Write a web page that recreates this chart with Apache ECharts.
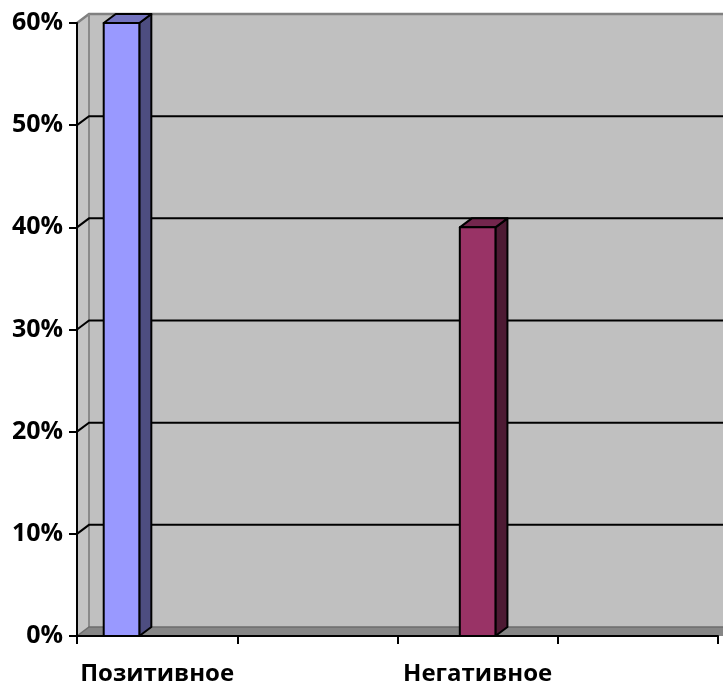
<!DOCTYPE html>
<html>
<head>
<meta charset="utf-8">
<script src="https://cdn.jsdelivr.net/npm/echarts@6/dist/echarts.min.js"></script>
<style>
  html, body { margin: 0; padding: 0; background: #ffffff; }
  #chart { width: 723px; height: 688px; }
</style>
</head>
<body>
<div id="chart"></div>
<script>
// Categories (only every other name is printed under the axis)
const categories = ['Позитивное', '', 'Негативное', ''];
// Share of answers, percent, per series and category
const positiveValues = [60, null, null, null];
const negativeValues = [null, null, 40, null];
// Value axis
const yTicks = [0, 10, 20, 30, 40, 50, 60];

// 3D look: depth offset of the back plane, in pixels
const DEPTH_X = 12;
const DEPTH_Y = 9;
// three series slots per category, gap width 150%
const SLOTS = 3;
const GAP = 1.5;

const FONT = '"Open Sans", "DejaVu Sans", sans-serif';

function toItems(values) {
  const out = [];
  values.forEach(function (v, i) { if (v !== null) out.push([i, v]); });
  return out;
}

// Back wall, side wall, floor and gridlines
function renderWalls(params, api) {
  const cs = params.coordSys;
  const left = cs.x, right = cs.x + cs.width;
  const top = api.coord([0, yTicks[yTicks.length - 1]])[1];
  const bottom = api.coord([0, yTicks[0]])[1];
  const children = [];
  // back wall
  children.push({
    type: 'rect',
    shape: { x: left + DEPTH_X, y: top - DEPTH_Y, width: right - left + 20, height: bottom - top },
    style: { fill: '#c0c0c0' }
  });
  // left side wall
  children.push({
    type: 'polygon',
    shape: { points: [[left, top], [left + DEPTH_X, top - DEPTH_Y], [left + DEPTH_X, bottom - DEPTH_Y], [left, bottom]] },
    style: { fill: '#c4c4c4' }
  });
  // wall edges
  children.push({
    type: 'polyline',
    shape: { points: [[left, top], [left + DEPTH_X, top - DEPTH_Y], [right + 20, top - DEPTH_Y]] },
    style: { stroke: '#808080', lineWidth: 2.5, fill: null }
  });
  children.push({
    type: 'line',
    shape: { x1: left + DEPTH_X, y1: top - DEPTH_Y, x2: left + DEPTH_X, y2: bottom - DEPTH_Y },
    style: { stroke: '#8a8a8a', lineWidth: 2 }
  });
  // gridlines
  yTicks.slice(1, -1).forEach(function (v) {
    const y = api.coord([0, v])[1];
    children.push({
      type: 'polyline',
      shape: { points: [[left, y], [left + DEPTH_X, y - DEPTH_Y], [right + 20, y - DEPTH_Y]] },
      style: { stroke: '#000000', lineWidth: 2, fill: null }
    });
  });
  // floor
  children.push({
    type: 'polygon',
    shape: { points: [[left, bottom], [left + DEPTH_X, bottom - DEPTH_Y], [right + 20, bottom - DEPTH_Y], [right + 20, bottom]] },
    style: { fill: '#868686' }
  });
  children.push({
    type: 'polyline',
    shape: { points: [[left, bottom], [left + DEPTH_X, bottom - DEPTH_Y], [right + 20, bottom - DEPTH_Y]] },
    style: { stroke: '#6c6c6c', lineWidth: 1.5, fill: null }
  });
  return { type: 'group', children: children };
}

// 3D column: front face, right side and top
function barRenderer(slot, colors) {
  return function (params, api) {
    const cat = api.value(0), val = api.value(1);
    const base = api.coord([cat, 0]);
    const topPt = api.coord([cat, val]);
    const band = api.size([1, 0])[0];
    const w = band / (SLOTS + GAP);
    const cx = base[0] + (slot - (SLOTS - 1) / 2) * w;
    const x0 = cx - w / 2, x1 = cx + w / 2;
    const yb = base[1], yt = topPt[1];
    const stroke = { stroke: '#000000', lineWidth: 2, lineJoin: 'round' };
    return {
      type: 'group',
      children: [
        {
          type: 'polygon',
          shape: { points: [[x1, yt], [x1 + DEPTH_X, yt - DEPTH_Y], [x1 + DEPTH_X, yb - DEPTH_Y], [x1, yb]] },
          style: Object.assign({ fill: colors.side }, stroke)
        },
        {
          type: 'polygon',
          shape: { points: [[x0, yt], [x0 + DEPTH_X, yt - DEPTH_Y], [x1 + DEPTH_X, yt - DEPTH_Y], [x1, yt]] },
          style: Object.assign({ fill: colors.top }, stroke)
        },
        {
          type: 'rect',
          shape: { x: x0, y: yt, width: x1 - x0, height: yb - yt },
          style: Object.assign({ fill: colors.front }, stroke)
        }
      ]
    };
  };
}

const chart = echarts.init(document.getElementById('chart'), null, { renderer: 'canvas' });
chart.setOption({
  animation: false,
  backgroundColor: '#ffffff',
  grid: { left: 77, right: 5, top: 23, bottom: 52, containLabel: false },
  xAxis: {
    type: 'category',
    data: categories,
    z: 10,
    axisLine: { lineStyle: { color: '#000000', width: 2 } },
    axisTick: { show: true, interval: 0, length: 8, lineStyle: { color: '#000000', width: 2 } },
    axisLabel: { interval: 0, margin: 26, color: '#000000', fontFamily: FONT, fontWeight: 'bold', fontSize: 24 },
    splitLine: { show: false }
  },
  yAxis: {
    type: 'value',
    min: 0, max: 60, interval: 10,
    z: 10,
    axisLine: { show: true, lineStyle: { color: '#000000', width: 2 } },
    axisTick: { show: true, length: 8, lineStyle: { color: '#000000', width: 2 } },
    axisLabel: { formatter: '{value}%', margin: 14, padding: [4, 0, 0, 0], color: '#000000', fontFamily: FONT, fontWeight: 'bold', fontSize: 25 },
    splitLine: { show: false }
  },
  series: [
    {
      type: 'custom', name: 'walls', clip: false, z: 1,
      data: [[0, 0]], renderItem: renderWalls, silent: true
    },
    {
      type: 'custom', name: 'Позитивное', clip: false, z: 3,
      data: toItems(positiveValues),
      renderItem: barRenderer(0, { front: '#9999ff', side: '#4d4d80', top: '#7373bf' })
    },
    {
      type: 'custom', name: 'Негативное', clip: false, z: 3,
      data: toItems(negativeValues),
      renderItem: barRenderer(1, { front: '#993366', side: '#4d1a33', top: '#73264d' })
    }
  ]
});
</script>
</body>
</html>
